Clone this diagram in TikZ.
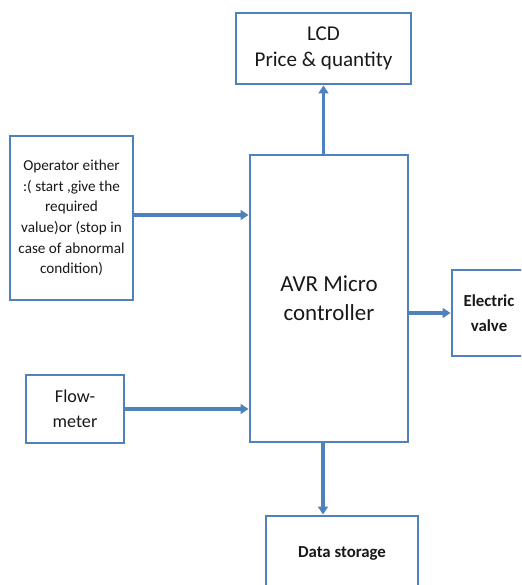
\documentclass[tikz,border=0pt]{standalone}
\usepackage{fontspec}
\setmainfont{Carlito}
\usetikzlibrary{arrows.meta,calc}
\definecolor{boxblue}{HTML}{4F81BD}
\begin{document}
\begin{tikzpicture}[x=0.75pt,y=-0.75pt,
  blk/.style={draw=boxblue,line width=2.2pt,fill=white,rectangle,inner sep=0pt,align=center,text=black!90},
  conn/.style={draw=boxblue,line width=2.4pt,-{Triangle[width=7.5pt,length=6pt]}}]
\useasboundingbox (0,0) rectangle (521,585);
\begin{scope}
\clip (0,0) rectangle (521,585);
\node[blk,minimum width=175*0.75pt,minimum height=71*0.75pt,font=\fontsize{15.8pt}{20pt}\selectfont] (lcd) at (323.5,48.5) {LCD\\Price \& quantity};
\node[blk,minimum width=123*0.75pt,minimum height=164*0.75pt,font=\fontsize{11.4pt}{15.5pt}\selectfont] (op) at (71.5,218) {Operator either\\:( start ,give the\\required\\value)or (stop in\\case of abnormal\\condition)};
\node[blk,minimum width=158*0.75pt,minimum height=287*0.75pt,font=\fontsize{17.2pt}{22pt}\selectfont] (avr) at (329,298.5) {AVR Micro\\controller};
\node[blk,minimum width=74*0.75pt,minimum height=86*0.75pt,font=\bfseries\fontsize{12.6pt}{19pt}\selectfont] (ev) at (489,313) {Electric\\valve};
\node[blk,minimum width=98*0.75pt,minimum height=68*0.75pt,font=\fontsize{13.6pt}{19pt}\selectfont] (fm) at (75,409) {Flow-\\meter};
\node[blk,minimum width=152*0.75pt,minimum height=74*0.75pt,font=\bfseries\fontsize{12.6pt}{14pt}\selectfont] (ds) at (342,553) {Data storage};
\draw[conn] (lcd.south |- avr.north) -- (lcd.south);
\draw[conn] (op.east |- 0,215) -- (avr.west |- 0,215);
\draw[conn] (fm.east) -- (fm.east -| avr.west);
\draw[conn] (avr.east |- ev.west) -- (ev.west);
\coordinate (dsx) at ($(avr.south)+(-6,0)$);
\draw[conn] (dsx) -- (dsx |- ds.north);
\end{scope}
\end{tikzpicture}
\end{document}
